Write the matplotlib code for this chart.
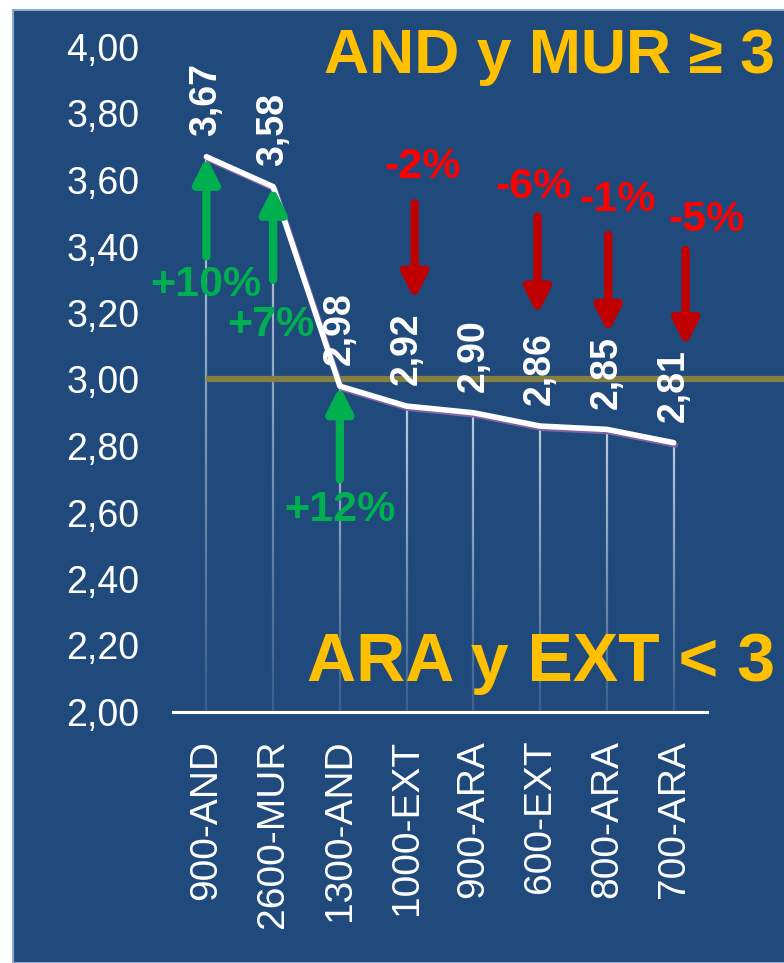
import matplotlib
matplotlib.use('Agg')
import matplotlib.pyplot as plt
import matplotlib.patheffects as pe
from matplotlib.patches import Rectangle
from matplotlib.collections import LineCollection
import numpy as np

# data
categories = ['900-AND', '2600-MUR', '1300-AND', '1000-EXT',
              '900-ARA', '600-EXT', '800-ARA', '700-ARA']
values = [3.67, 3.58, 2.98, 2.92, 2.90, 2.86, 2.85, 2.81]
yticks = [2.0, 2.2, 2.4, 2.6, 2.8, 3.0, 3.2, 3.4, 3.6, 3.8, 4.0]
threshold = 3.0

up_labels = ['+10%', '+7%', '+12%']
down_labels = ['-2%', '-6%', '-1%', '-5%']

BLUE = '#204A7C'
GOLD = '#FFC000'
GREEN = '#00B050'
DARKRED = '#C00000'
RED = '#FF0000'

plt.rcParams['font.family'] = ['Liberation Sans', 'DejaVu Sans']

fig = plt.figure(figsize=(7.84, 9.63), dpi=100)
fig.patch.set_facecolor('white')
fig.patches.append(Rectangle((13 / 784, 0), 1, (963 - 10) / 963,
                             transform=fig.transFigure, facecolor=BLUE,
                             edgecolor='#8EA9D0', linewidth=1.5, zorder=-5))

ax = fig.add_axes([173 / 784, 251 / 963, 534 / 784, 665 / 963])
ax.set_facecolor('none')
ax.set_zorder(2)
x = list(range(len(categories)))

# drop lines, fading towards the axis
nseg = 40
for xi, v in zip(x, values):
    ys = np.linspace(v, 2.0, nseg + 1)
    segs = [[(xi, ys[i]), (xi, ys[i + 1])] for i in range(nseg)]
    alphas = np.linspace(0.85, 0.15, nseg)
    cols = [(0.85, 0.88, 0.93, a) for a in alphas]
    ax.add_collection(LineCollection(segs, colors=cols, linewidths=1.6, zorder=1))

# threshold line running to the right edge
ax.plot([0, 8.7], [threshold, threshold], color='#877F42', linewidth=4.5,
        solid_capstyle='butt', clip_on=False, zorder=2)

# main line
ax.plot(x, values, color='white', linewidth=4, zorder=4, solid_capstyle='round',
        path_effects=[pe.SimpleLineShadow(offset=(1.2, -1.6), shadow_color='#8064A2', alpha=1),
                      pe.Normal()])

# value labels
for xi, v in zip(x, values):
    ax.annotate(('%.2f' % v).replace('.', ','), (xi, v), xytext=(0, 15),
                textcoords='offset points', rotation=90, ha='center', va='bottom',
                color='white', fontsize=27, fontweight='bold', zorder=6)

arrow_style = '-|>,head_width=0.38,head_length=0.75'

# green up arrows
up_x = [0, 1, 2]
up_from = [3.37, 3.30, 2.70]
up_text = [(0.0, 3.284), (0.96, 3.164), (2.0, 2.607)]
for xi, y0, lab, (tx, ty) in zip(up_x, up_from, up_labels, up_text):
    ax.annotate('', xy=(xi, values[xi]), xytext=(xi, y0),
                arrowprops=dict(arrowstyle=arrow_style, mutation_scale=20,
                                color=GREEN, lw=6, shrinkA=0, shrinkB=0), zorder=5)
    ax.text(tx, ty, lab, color=GREEN, fontsize=31, fontweight='bold',
            ha='center', va='center', zorder=6)

# red down arrows
down_x = [3.12, 4.96, 6.02, 7.18]
down_from = [3.53, 3.49, 3.435, 3.39]
down_to = [3.24, 3.195, 3.14, 3.10]
down_text = [(3.24, 3.64), (4.9, 3.58), (6.16, 3.54), (7.5, 3.48)]
for xi, y0, y1, lab, (tx, ty) in zip(down_x, down_from, down_to, down_labels, down_text):
    ax.annotate('', xy=(xi, y1), xytext=(xi, y0),
                arrowprops=dict(arrowstyle=arrow_style, mutation_scale=20,
                                color=DARKRED, lw=6, shrinkA=0, shrinkB=0), zorder=5)
    ax.text(tx, ty, lab, color=RED, fontsize=31, fontweight='bold',
            ha='center', va='center', zorder=6)

# headline texts
fig.text(775 / 784, 1 - 57 / 963, 'AND y MUR \u2265 3', color=GOLD, fontsize=45,
         fontweight='bold', ha='right', va='center', zorder=10)
fig.text(775 / 784, 1 - 663 / 963, 'ARA y EXT < 3', color=GOLD, fontsize=49,
         fontweight='bold', ha='right', va='center', zorder=10)

ax.set_xlim(-0.5, 7.5)
ax.set_ylim(2.0, 4.0)
ax.set_yticks(yticks)
ax.set_yticklabels([('%.2f' % t).replace('.', ',') for t in yticks])
ax.set_xticks(x)
ax.set_xticklabels(categories, rotation=90)
ax.tick_params(axis='y', length=0, pad=24, labelsize=27, labelcolor='white')
ax.tick_params(axis='x', length=0, pad=20, labelsize=28, labelcolor='white')
for s in ['left', 'right', 'top']:
    ax.spines[s].set_visible(False)
ax.spines['bottom'].set_color('white')
ax.spines['bottom'].set_linewidth(2.2)

fig.savefig('out.png', dpi=100, facecolor='white')
